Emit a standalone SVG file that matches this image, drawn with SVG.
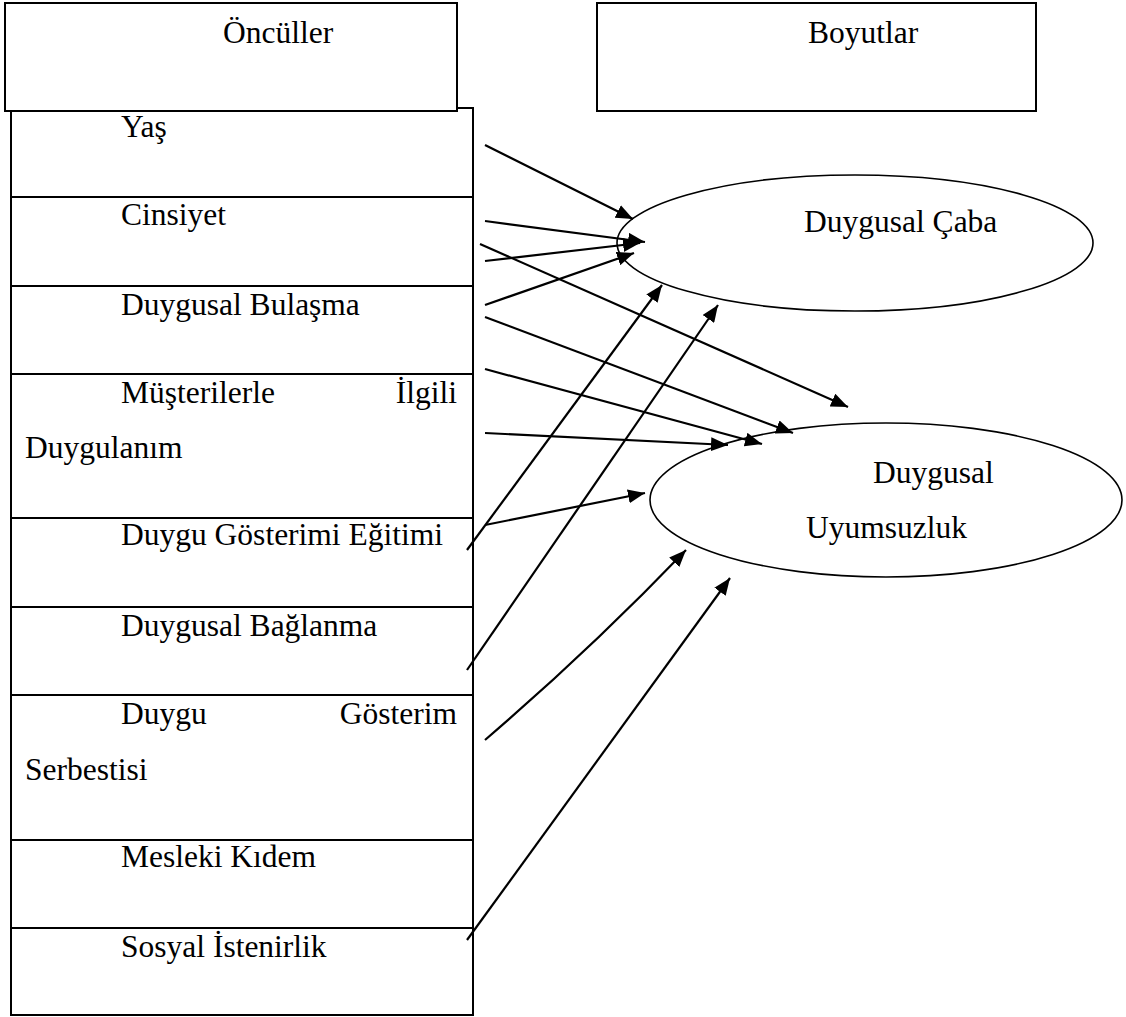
<svg xmlns="http://www.w3.org/2000/svg" width="1126" height="1017" viewBox="0 0 1126 1017">
<defs>
<marker id="ah" markerUnits="userSpaceOnUse" markerWidth="18" markerHeight="14" refX="17" refY="7" orient="auto">
<path d="M0,0 L17,7 L0,14 z" fill="#000"/>
</marker>
<style>
text{font-family:"Liberation Serif","Times New Roman",serif;font-size:31.5px;fill:#000}
.box{fill:#fff;stroke:#000;stroke-width:2}
.row{fill:none;stroke:#000;stroke-width:2}
.ell{fill:#fff;stroke:#000;stroke-width:1.6}
.con{fill:none;stroke:#000;stroke-width:2.2;marker-end:url(#ah)}
</style>
</defs>
<rect width="1126" height="1017" fill="#fff"/>
<g id="table">
<rect class="row" x="11" y="108" width="462" height="907"/>
<line class="row" x1="11" y1="197" x2="473" y2="197"/>
<line class="row" x1="11" y1="286" x2="473" y2="286"/>
<line class="row" x1="11" y1="374" x2="473" y2="374"/>
<line class="row" x1="11" y1="518" x2="473" y2="518"/>
<line class="row" x1="11" y1="607" x2="473" y2="607"/>
<line class="row" x1="11" y1="695" x2="473" y2="695"/>
<line class="row" x1="11" y1="840" x2="473" y2="840"/>
<line class="row" x1="11" y1="928" x2="473" y2="928"/>
</g>
<g id="n-yas"><text x="121" y="137">Yaş</text></g>
<g id="n-cinsiyet"><text x="121" y="225">Cinsiyet</text></g>
<g id="n-bulasma"><text x="121" y="315">Duygusal Bulaşma</text></g>
<g id="n-musteri"><text x="121" y="403">Müşterilerle</text><text x="457" y="403" text-anchor="end">İlgili</text><text x="25" y="458">Duygulanım</text></g>
<g id="n-egitim"><text x="121" y="545">Duygu Gösterimi Eğitimi</text></g>
<g id="n-baglanma"><text x="121" y="636">Duygusal Bağlanma</text></g>
<g id="n-serbesti"><text x="121" y="724">Duygu</text><text x="457" y="724" text-anchor="end">Gösterim</text><text x="25" y="780">Serbestisi</text></g>
<g id="n-kidem"><text x="121" y="867">Mesleki Kıdem</text></g>
<g id="n-istenirlik"><text x="121" y="957">Sosyal İstenirlik</text></g>
<g id="n-onculler"><rect class="box" x="5" y="3" width="452" height="108"/><text x="223" y="43">Öncüller</text></g>
<g id="n-boyutlar"><rect class="box" x="597" y="3" width="439" height="108"/><text x="808" y="43">Boyutlar</text></g>
<g id="n-caba"><ellipse class="ell" cx="855" cy="243" rx="238" ry="68"/><text x="804" y="232">Duygusal Çaba</text></g>
<g id="n-uyumsuzluk"><ellipse class="ell" cx="886" cy="500" rx="236" ry="77"/><text x="873" y="483">Duygusal</text><text x="806" y="538">Uyumsuzluk</text></g>
<g id="connectors">
<line class="con" x1="485" y1="145" x2="633" y2="219"/>
<line class="con" x1="485" y1="221" x2="645" y2="242"/>
<line class="con" x1="485" y1="261" x2="640" y2="243"/>
<line class="con" x1="485" y1="305" x2="634" y2="253"/>
<line class="con" x1="480" y1="244" x2="848" y2="407"/>
<line class="con" x1="485" y1="317" x2="793" y2="433"/>
<line class="con" x1="485" y1="369" x2="762" y2="444"/>
<line class="con" x1="485" y1="433" x2="728" y2="445"/>
<line class="con" x1="485" y1="525" x2="645" y2="493"/>
<line class="con" x1="467" y1="550" x2="662" y2="285"/>
<line class="con" x1="467" y1="670" x2="718" y2="305"/>
<path class="con" d="M485,740 Q590,650 686,550"/>
<line class="con" x1="467" y1="940" x2="730" y2="578"/>
</g>
</svg>
